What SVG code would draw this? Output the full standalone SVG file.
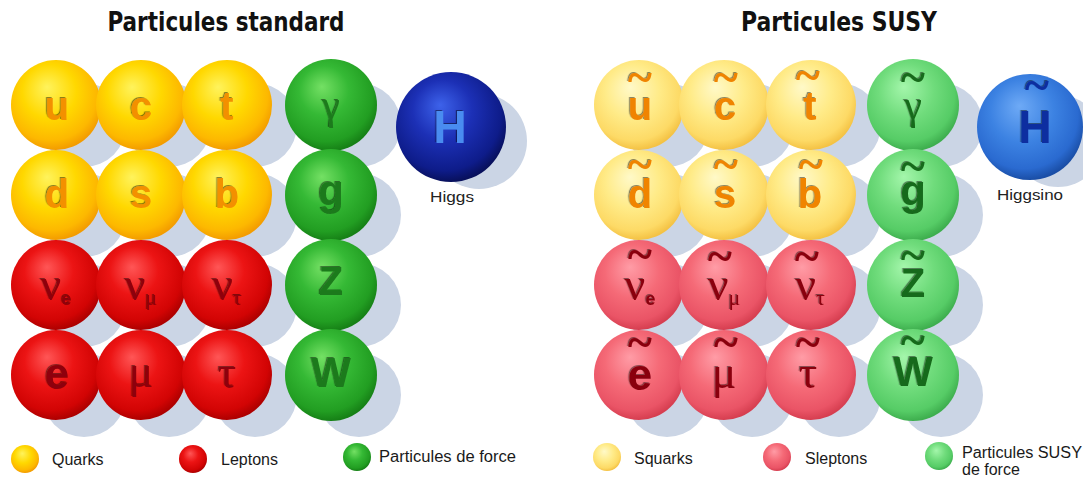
<svg xmlns="http://www.w3.org/2000/svg" width="1083" height="478" viewBox="0 0 1083 478">
<defs>
<radialGradient id="gQ" cx="0.45" cy="0.4" r="0.6" fx="0.4" fy="0.3">
<stop offset="0" stop-color="#fff35c"/><stop offset="0.5" stop-color="#ffd800"/><stop offset="0.85" stop-color="#fdb800"/><stop offset="1" stop-color="#f39c00"/>
</radialGradient>
<radialGradient id="gL" cx="0.45" cy="0.4" r="0.6" fx="0.4" fy="0.3">
<stop offset="0" stop-color="#ff5656"/><stop offset="0.45" stop-color="#ec1414"/><stop offset="0.85" stop-color="#d20404"/><stop offset="1" stop-color="#ad0000"/>
</radialGradient>
<radialGradient id="gF" cx="0.45" cy="0.4" r="0.6" fx="0.4" fy="0.3">
<stop offset="0" stop-color="#74e064"/><stop offset="0.45" stop-color="#35b935"/><stop offset="0.85" stop-color="#229e22"/><stop offset="1" stop-color="#168016"/>
</radialGradient>
<radialGradient id="gH" cx="0.45" cy="0.4" r="0.6" fx="0.4" fy="0.3">
<stop offset="0" stop-color="#3d62ea"/><stop offset="0.45" stop-color="#1c30b6"/><stop offset="0.85" stop-color="#0e1c8a"/><stop offset="1" stop-color="#08105c"/>
</radialGradient>
<radialGradient id="gSQ" cx="0.45" cy="0.4" r="0.6" fx="0.4" fy="0.3">
<stop offset="0" stop-color="#fff9c8"/><stop offset="0.5" stop-color="#ffeb88"/><stop offset="0.85" stop-color="#fdda66"/><stop offset="1" stop-color="#f4c244"/>
</radialGradient>
<radialGradient id="gSL" cx="0.45" cy="0.4" r="0.6" fx="0.4" fy="0.3">
<stop offset="0" stop-color="#ff9ca6"/><stop offset="0.5" stop-color="#f56a77"/><stop offset="0.85" stop-color="#ea5466"/><stop offset="1" stop-color="#d63e50"/>
</radialGradient>
<radialGradient id="gSF" cx="0.45" cy="0.4" r="0.6" fx="0.4" fy="0.3">
<stop offset="0" stop-color="#a4f6ab"/><stop offset="0.5" stop-color="#70dc7c"/><stop offset="0.85" stop-color="#56cc66"/><stop offset="1" stop-color="#3eae4e"/>
</radialGradient>
<radialGradient id="gSH" cx="0.45" cy="0.4" r="0.6" fx="0.4" fy="0.3">
<stop offset="0" stop-color="#6eaaf6"/><stop offset="0.5" stop-color="#3c82e2"/><stop offset="0.85" stop-color="#2a6ad0"/><stop offset="1" stop-color="#1a4ea6"/>
</radialGradient>
<filter id="emb" x="-30%" y="-30%" width="160%" height="160%">
<feDropShadow dx="-1.2" dy="-1" stdDeviation="0.4" flood-color="#000" flood-opacity="0.45"/>
</filter>
</defs>
<style>
.sh{fill:#cbd5e5}
.ttl{font-family:"DejaVu Sans Condensed","DejaVu Sans",sans-serif;font-weight:bold;font-size:27px;fill:#111;text-anchor:middle}
.lb{text-anchor:middle;filter:url(#emb)}
.fb{font-family:"Liberation Sans",Arial,sans-serif;font-weight:bold}
.fs{font-family:"Liberation Serif","Times New Roman",serif}
.sub{font-family:"Liberation Sans",Arial,sans-serif;font-weight:bold;font-size:18px}
.subg{font-family:"Liberation Serif","Times New Roman",serif;font-size:22px}
.til{font-family:"Liberation Serif","Times New Roman",serif;font-weight:bold;font-size:46px}
.lg{font-family:"Liberation Sans",Arial,sans-serif;font-size:16px;fill:#1a1a1a}
.cap{font-family:"Liberation Sans",Arial,sans-serif;font-size:15px;fill:#222;text-anchor:middle}
.oq{fill:#f39000}.rl{fill:#8e0008}.gf{fill:#1d7a1d}.hb{fill:#4a8cf0}
.soq{fill:#f08400}.srl{fill:#8a0010}.sgf{fill:#176a1a}.shb{fill:#0c2fa0}
</style>

<text class="ttl" x="226" y="31" textLength="237" lengthAdjust="spacingAndGlyphs">Particules standard</text>
<text class="ttl" x="839" y="31" textLength="196" lengthAdjust="spacingAndGlyphs">Particules SUSY</text>

<g id="shadows">
<circle class="sh" cx="84" cy="125" r="42"/><circle class="sh" cx="169" cy="125" r="42"/><circle class="sh" cx="255" cy="125" r="42"/><circle class="sh" cx="359" cy="125" r="42"/>
<circle class="sh" cx="84" cy="215" r="42"/><circle class="sh" cx="169" cy="215" r="42"/><circle class="sh" cx="255" cy="215" r="42"/><circle class="sh" cx="359" cy="215" r="42"/>
<circle class="sh" cx="84" cy="305" r="42"/><circle class="sh" cx="169" cy="305" r="42"/><circle class="sh" cx="255" cy="305" r="42"/><circle class="sh" cx="359" cy="305" r="42"/>
<circle class="sh" cx="84" cy="395" r="42"/><circle class="sh" cx="169" cy="395" r="42"/><circle class="sh" cx="255" cy="395" r="42"/><circle class="sh" cx="359" cy="395" r="42"/>
<circle class="sh" cx="479" cy="141" r="48"/>
<circle class="sh" cx="667" cy="125" r="42"/><circle class="sh" cx="752" cy="125" r="42"/><circle class="sh" cx="839" cy="125" r="42"/><circle class="sh" cx="941" cy="125" r="42"/>
<circle class="sh" cx="667" cy="215" r="42"/><circle class="sh" cx="752" cy="215" r="42"/><circle class="sh" cx="839" cy="215" r="42"/><circle class="sh" cx="941" cy="215" r="42"/>
<circle class="sh" cx="667" cy="305" r="42"/><circle class="sh" cx="752" cy="305" r="42"/><circle class="sh" cx="839" cy="305" r="42"/><circle class="sh" cx="941" cy="305" r="42"/>
<circle class="sh" cx="667" cy="395" r="42"/><circle class="sh" cx="752" cy="395" r="42"/><circle class="sh" cx="839" cy="395" r="42"/><circle class="sh" cx="941" cy="395" r="42"/>
<circle class="sh" cx="1058" cy="141" r="46"/>
</g>

<g id="connectors"/>

<!-- Standard particles -->
<g id="u"><circle cx="56" cy="105" r="45" fill="url(#gQ)"/><text class="lb fb oq" x="57" y="120" font-size="40">u</text></g>
<g id="c"><circle cx="141" cy="105" r="45" fill="url(#gQ)"/><text class="lb fb oq" x="141" y="120" font-size="40">c</text></g>
<g id="t"><circle cx="227" cy="105" r="45" fill="url(#gQ)"/><text class="lb fb oq" x="227" y="120" font-size="40">t</text></g>
<g id="photon"><circle cx="331" cy="105" r="46" fill="url(#gF)"/><text class="lb fs gf" x="331" y="119" font-size="40">γ</text></g>
<g id="d"><circle cx="56" cy="195" r="45" fill="url(#gQ)"/><text class="lb fb oq" x="57" y="208" font-size="40">d</text></g>
<g id="s"><circle cx="141" cy="195" r="45" fill="url(#gQ)"/><text class="lb fb oq" x="141" y="208" font-size="40">s</text></g>
<g id="b"><circle cx="227" cy="195" r="45" fill="url(#gQ)"/><text class="lb fb oq" x="227" y="208" font-size="40">b</text></g>
<g id="g"><circle cx="331" cy="195" r="46" fill="url(#gF)"/><text class="lb fb gf" x="331" y="205" font-size="42">g</text></g>
<g id="nu_e"><circle cx="56" cy="285" r="45" fill="url(#gL)"/><text class="lb fs rl" x="56" y="300" font-size="46">ν<tspan class="sub" dy="5">e</tspan></text></g>
<g id="nu_mu"><circle cx="141" cy="285" r="45" fill="url(#gL)"/><text class="lb fs rl" x="141" y="300" font-size="46">ν<tspan class="subg" dy="5">μ</tspan></text></g>
<g id="nu_tau"><circle cx="227" cy="285" r="45" fill="url(#gL)"/><text class="lb fs rl" x="227" y="300" font-size="46">ν<tspan class="subg" dy="5">τ</tspan></text></g>
<g id="Z"><circle cx="331" cy="285" r="46" fill="url(#gF)"/><text class="lb fb gf" x="331" y="295" font-size="40">Z</text></g>
<g id="e"><circle cx="56" cy="375" r="45" fill="url(#gL)"/><text class="lb fb rl" x="57" y="389" font-size="44">e</text></g>
<g id="mu"><circle cx="141" cy="375" r="45" fill="url(#gL)"/><text class="lb fs rl" x="141" y="387" font-size="46">μ</text></g>
<g id="tau"><circle cx="227" cy="375" r="45" fill="url(#gL)"/><text class="lb fs rl" x="227" y="388" font-size="46">τ</text></g>
<g id="W"><circle cx="331" cy="375" r="46" fill="url(#gF)"/><text class="lb fb gf" x="331" y="387" font-size="42">W</text></g>
<g id="Higgs"><circle cx="451" cy="127" r="55" fill="url(#gH)"/><text class="lb fb hb" x="450" y="143" font-size="46">H</text><text class="cap" x="452" y="202" textLength="44" lengthAdjust="spacingAndGlyphs">Higgs</text></g>

<!-- SUSY particles -->
<g id="su"><circle cx="639" cy="105" r="45" fill="url(#gSQ)"/><text class="lb soq"><tspan class="til" x="640" y="93">~</tspan><tspan class="fb" x="640" y="120" font-size="40">u</tspan></text></g>
<g id="sc"><circle cx="724" cy="105" r="45" fill="url(#gSQ)"/><text class="lb soq"><tspan class="til" x="726" y="93">~</tspan><tspan class="fb" x="725" y="120" font-size="40">c</tspan></text></g>
<g id="st"><circle cx="811" cy="105" r="45" fill="url(#gSQ)"/><text class="lb soq"><tspan class="til" x="808" y="91">~</tspan><tspan class="fb" x="810" y="120" font-size="40">t</tspan></text></g>
<g id="photino"><circle cx="913" cy="105" r="46" fill="url(#gSF)"/><text class="lb sgf"><tspan class="til" x="913" y="93">~</tspan><tspan class="fs" x="913" y="119" font-size="40">γ</tspan></text></g>
<g id="sd"><circle cx="639" cy="195" r="45" fill="url(#gSQ)"/><text class="lb soq"><tspan class="til" x="640" y="180">~</tspan><tspan class="fb" x="640" y="208" font-size="40">d</tspan></text></g>
<g id="ss"><circle cx="724" cy="195" r="45" fill="url(#gSQ)"/><text class="lb soq"><tspan class="til" x="726" y="180">~</tspan><tspan class="fb" x="725" y="208" font-size="40">s</tspan></text></g>
<g id="sb"><circle cx="811" cy="195" r="45" fill="url(#gSQ)"/><text class="lb soq"><tspan class="til" x="811" y="180">~</tspan><tspan class="fb" x="810" y="208" font-size="40">b</tspan></text></g>
<g id="gluino"><circle cx="913" cy="195" r="46" fill="url(#gSF)"/><text class="lb sgf"><tspan class="til" x="913" y="182">~</tspan><tspan class="fb" x="913" y="205" font-size="42">g</tspan></text></g>
<g id="snu_e"><circle cx="639" cy="285" r="45" fill="url(#gSL)"/><text class="lb srl"><tspan class="til" x="640" y="270">~</tspan><tspan class="fs" x="640" y="300" font-size="46">ν</tspan><tspan class="sub" dy="5">e</tspan></text></g>
<g id="snu_mu"><circle cx="724" cy="285" r="45" fill="url(#gSL)"/><text class="lb srl"><tspan class="til" x="720" y="272">~</tspan><tspan class="fs" x="724" y="300" font-size="46">ν</tspan><tspan class="subg" dy="5">μ</tspan></text></g>
<g id="snu_tau"><circle cx="811" cy="285" r="45" fill="url(#gSL)"/><text class="lb srl"><tspan class="til" x="807" y="272">~</tspan><tspan class="fs" x="810" y="300" font-size="46">ν</tspan><tspan class="subg" dy="5">τ</tspan></text></g>
<g id="sZ"><circle cx="913" cy="285" r="46" fill="url(#gSF)"/><text class="lb sgf"><tspan class="til" x="913" y="271">~</tspan><tspan class="fb" x="913" y="297" font-size="40">Z</tspan></text></g>
<g id="se"><circle cx="639" cy="375" r="45" fill="url(#gSL)"/><text class="lb srl"><tspan class="til" x="640" y="358">~</tspan><tspan class="fb" x="640" y="390" font-size="44">e</tspan></text></g>
<g id="smu"><circle cx="724" cy="375" r="45" fill="url(#gSL)"/><text class="lb srl"><tspan class="til" x="726" y="358">~</tspan><tspan class="fs" x="724" y="388" font-size="46">μ</tspan></text></g>
<g id="stau"><circle cx="811" cy="375" r="45" fill="url(#gSL)"/><text class="lb srl"><tspan class="til" x="808" y="358">~</tspan><tspan class="fs" x="808" y="388" font-size="46">τ</tspan></text></g>
<g id="sW"><circle cx="913" cy="375" r="46" fill="url(#gSF)"/><text class="lb sgf"><tspan class="til" x="913" y="356">~</tspan><tspan class="fb" x="913" y="386" font-size="42">W</tspan></text></g>
<g id="Higgsino"><circle cx="1030" cy="127" r="53" fill="url(#gSH)"/><text class="lb shb"><tspan class="til" x="1037" y="101">~</tspan><tspan class="fb" x="1035" y="143" font-size="46">H</tspan></text><text class="cap" x="1030" y="200" textLength="66" lengthAdjust="spacingAndGlyphs">Higgsino</text></g>

<!-- Legends -->
<g id="legend-quarks"><circle cx="25" cy="459" r="14" fill="url(#gQ)"/><text class="lg" x="52" y="465">Quarks</text></g>
<g id="legend-leptons"><circle cx="193" cy="459" r="14" fill="url(#gL)"/><text class="lg" x="221" y="465">Leptons</text></g>
<g id="legend-force"><circle cx="357" cy="457" r="14" fill="url(#gF)"/><text class="lg" x="379" y="462" textLength="137" lengthAdjust="spacingAndGlyphs">Particules de force</text></g>
<g id="legend-squarks"><circle cx="607" cy="457" r="14" fill="url(#gSQ)"/><text class="lg" x="634" y="464">Squarks</text></g>
<g id="legend-sleptons"><circle cx="777" cy="457" r="14" fill="url(#gSL)"/><text class="lg" x="805" y="464">Sleptons</text></g>
<g id="legend-susy-force"><circle cx="939" cy="456" r="14" fill="url(#gSF)"/><text class="lg" x="962" y="458" textLength="120" lengthAdjust="spacingAndGlyphs">Particules  SUSY</text><text class="lg" x="962" y="475">de force</text></g>
</svg>
